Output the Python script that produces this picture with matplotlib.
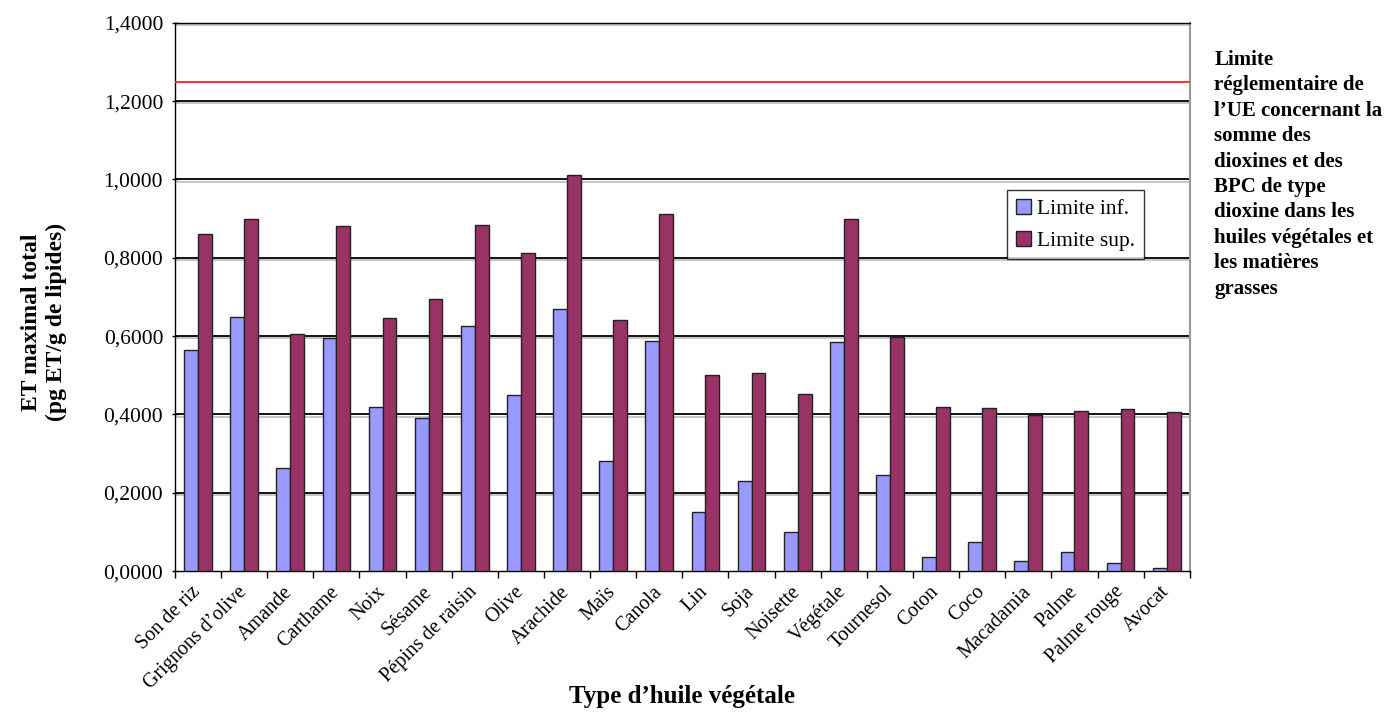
import numpy as np
import matplotlib
matplotlib.use("Agg")
import matplotlib.pyplot as plt
import matplotlib.patheffects as pe

huiles = ["Son de riz", "Grignons d’olive", "Amande", "Carthame", "Noix", "Sésame",
          "Pépins de raisin", "Olive", "Arachide", "Maïs", "Canola", "Lin", "Soja",
          "Noisette", "Végétale", "Tournesol", "Coton", "Coco", "Macadamia", "Palme",
          "Palme rouge", "Avocat"]
limite_inf = [0.565, 0.650, 0.264, 0.594, 0.420, 0.391, 0.626, 0.450, 0.669, 0.282,
              0.588, 0.150, 0.231, 0.100, 0.584, 0.245, 0.037, 0.075, 0.025, 0.048,
              0.020, 0.009]
limite_sup = [0.861, 0.899, 0.605, 0.881, 0.646, 0.695, 0.884, 0.813, 1.012, 0.640,
              0.911, 0.502, 0.507, 0.451, 0.899, 0.599, 0.420, 0.417, 0.399, 0.410,
              0.414, 0.405]
limite_ue = 1.25

plt.rcParams['font.family'] = ['Liberation Serif', 'DejaVu Serif']

fig = plt.figure(figsize=(13.94, 7.13), dpi=100)
ax = fig.add_axes([0.1255, 0.199, 0.728, 0.769])

x = np.arange(len(huiles))
w = 0.30
ax.bar(x - w / 2, limite_inf, w, color='#9999FF', edgecolor='#222222', linewidth=1.0,
       label='Limite inf.', zorder=3)
ax.bar(x + w / 2, limite_sup, w, color='#993366', edgecolor='#222222', linewidth=1.0,
       label='Limite sup.', zorder=3)

# EU limit line
ax.axhline(limite_ue, color='#FF2020', linewidth=1.3, zorder=4)

ax.set_xlim(-0.5, len(huiles) - 0.5)
ax.set_ylim(0, 1.4)
yt = np.arange(0, 1.41, 0.2)
ax.set_yticks(yt)
ax.set_yticklabels([f"{v:.4f}".replace('.', ',') for v in yt], fontsize=15.5)

# gridlines with a light shadow underneath
for v in yt[1:]:
    ax.axhline(v, color='black', linewidth=1.3, zorder=2,
               path_effects=[pe.SimpleLineShadow(offset=(0, -1.5), shadow_color='#999999', alpha=0.6),
                             pe.Normal()])

# ticks between groups, labels at group centres
ax.set_xticks(np.arange(-0.5, len(huiles), 1.0))
ax.set_xticklabels([])
ax.set_xticks(x, minor=True)
ax.set_xticklabels(huiles, minor=True, rotation=45, ha='right', va='center',
                   rotation_mode='anchor', fontsize=14.5)
ax.tick_params(axis='x', which='major', length=5, direction='out', width=1)
ax.tick_params(axis='x', which='minor', length=0, pad=13)
ax.tick_params(axis='y', length=5, direction='inout', width=1, pad=6)

for s in ['left', 'bottom', 'top']:
    ax.spines[s].set_color('black')
    ax.spines[s].set_linewidth(1.0)
ax.spines['right'].set_color('#999999')
ax.spines['right'].set_linewidth(1.5)

ax.set_ylabel("ET maximal total\n(pg ET/g de lipides)", fontsize=17, fontweight='bold',
              linespacing=1.25)
ax.yaxis.set_label_coords(-0.106, 0.454)
ax.set_xlabel("Type d’huile végétale", fontsize=18, fontweight='bold')
ax.xaxis.set_label_coords(0.5, -0.208)

leg = ax.legend(loc='upper left', bbox_to_anchor=(0.820, 0.695), fontsize=15.5,
                frameon=True, fancybox=False, edgecolor='black', handlelength=0.7,
                handleheight=0.7, handletextpad=0.3, borderpad=0.4, labelspacing=0.55,
                borderaxespad=0)
leg.get_frame().set_linewidth(1.0)

fig.text(0.871, 0.930, "Limite\nréglementaire de\nl’UE concernant la\nsomme des\n"
         "dioxines et des\nBPC de type\ndioxine dans les\nhuiles végétales et\n"
         "les matières\ngrasses", fontsize=15, fontweight='bold', va='top', ha='left',
         linespacing=1.36)

fig.savefig("out.png", dpi=100)
